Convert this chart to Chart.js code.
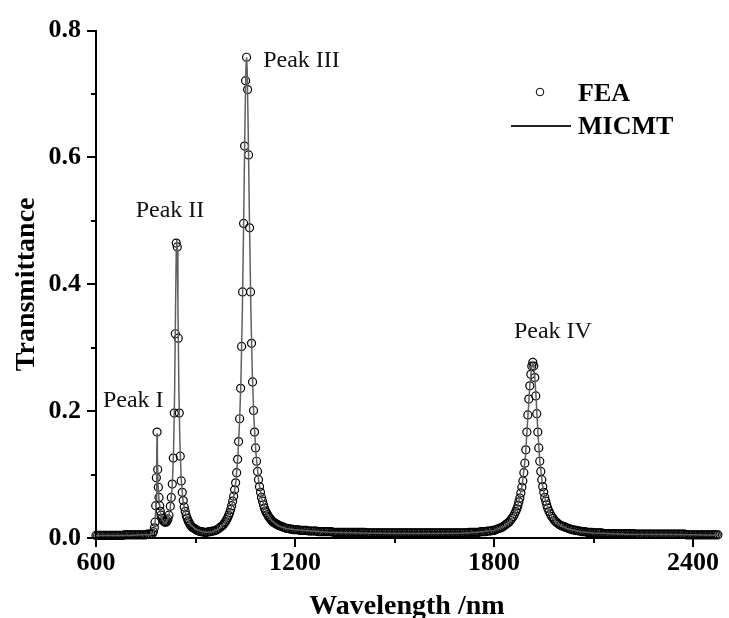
<!DOCTYPE html>
<html>
<head>
<meta charset="utf-8">
<title>Transmittance spectrum</title>
<script src="https://cdn.jsdelivr.net/npm/chart.js@4.4.1/dist/chart.umd.min.js"></script>
<style>
  html, body { margin: 0; padding: 0; background: #fff; }
  #wrap { width: 729px; height: 618px; }
</style>
</head>
<body>
<div id="wrap"><canvas id="spectrum" width="729" height="618"></canvas></div>
<script>
'use strict';

// ── AXES ──
const xMajor = [600, 1200, 1800, 2400];
const xMinor = [900, 1500, 2100];
const yMajor = [0, 0.2, 0.4, 0.6, 0.8];
const yMinor = [0.1, 0.3, 0.5, 0.7];

// ── FEA (circles) ──
const feaNm = [
  600, 605, 610, 615, 620, 625, 630, 635, 640, 645,
  650, 655, 660, 665, 670, 675, 680, 685, 690, 695,
  700, 705, 710, 715, 720, 725, 730, 735, 740, 745,
  750, 755, 760, 765, 770, 773, 776, 778, 780, 782,
  784, 786, 788, 790, 792, 794, 796, 799, 802, 805,
  808, 811, 814, 817, 820, 824, 827, 830, 833, 836,
  839, 842, 845, 848, 851, 854, 857, 860, 863, 866,
  869, 872, 875, 878, 881, 884, 887, 890, 893, 896,
  899, 902, 905, 910, 915, 920, 925, 930, 935, 940,
  945, 950, 955, 960, 965, 970, 975, 980, 984, 988,
  991, 994, 997, 1000, 1003, 1006, 1009, 1012, 1015, 1018,
  1021, 1024, 1027, 1030, 1033, 1036, 1039, 1042, 1045, 1048,
  1051, 1054, 1057, 1060, 1063, 1066, 1069, 1072, 1075, 1078,
  1081, 1084, 1087, 1090, 1093, 1096, 1099, 1102, 1105, 1108,
  1111, 1114, 1117, 1120, 1123, 1126, 1129, 1132, 1135, 1138,
  1141, 1144, 1147, 1150, 1155, 1160, 1165, 1170, 1175, 1180,
  1185, 1190, 1195, 1200, 1205, 1210, 1215, 1220, 1225, 1230,
  1235, 1240, 1245, 1250, 1255, 1260, 1265, 1270, 1275, 1280,
  1285, 1290, 1295, 1300, 1305, 1310, 1315, 1320, 1325, 1330,
  1335, 1340, 1345, 1350, 1355, 1360, 1365, 1370, 1375, 1380,
  1385, 1390, 1395, 1400, 1405, 1410, 1415, 1420, 1425, 1430,
  1435, 1440, 1445, 1450, 1455, 1460, 1465, 1470, 1475, 1480,
  1485, 1490, 1495, 1500, 1505, 1510, 1515, 1520, 1525, 1530,
  1535, 1540, 1545, 1550, 1555, 1560, 1565, 1570, 1575, 1580,
  1585, 1590, 1595, 1600, 1605, 1610, 1615, 1620, 1625, 1630,
  1635, 1640, 1645, 1650, 1655, 1660, 1665, 1670, 1675, 1680,
  1685, 1690, 1695, 1700, 1705, 1710, 1715, 1720, 1725, 1730,
  1735, 1740, 1745, 1750, 1755, 1760, 1765, 1770, 1775, 1780,
  1785, 1790, 1795, 1800, 1805, 1810, 1815, 1820, 1825, 1830,
  1835, 1840, 1845, 1850, 1854, 1858, 1862, 1866, 1869, 1872,
  1875, 1878, 1881, 1884, 1887, 1890, 1893, 1896, 1899, 1902,
  1905, 1908, 1911, 1914, 1917, 1920, 1923, 1926, 1929, 1932,
  1935, 1938, 1941, 1944, 1947, 1950, 1953, 1956, 1959, 1962,
  1966, 1970, 1974, 1978, 1982, 1986, 1990, 1995, 2000, 2005,
  2010, 2015, 2020, 2025, 2030, 2035, 2040, 2045, 2050, 2055,
  2060, 2065, 2070, 2075, 2080, 2085, 2090, 2095, 2100, 2105,
  2110, 2115, 2120, 2125, 2130, 2135, 2140, 2145, 2150, 2155,
  2160, 2165, 2170, 2175, 2180, 2185, 2190, 2195, 2200, 2205,
  2210, 2215, 2220, 2225, 2230, 2235, 2240, 2245, 2250, 2255,
  2260, 2265, 2270, 2275, 2280, 2285, 2290, 2295, 2300, 2305,
  2310, 2315, 2320, 2325, 2330, 2335, 2340, 2345, 2350, 2355,
  2360, 2365, 2370, 2375, 2380, 2385, 2390, 2395, 2400, 2405,
  2410, 2415, 2420, 2425, 2430, 2435, 2440, 2445, 2450, 2455,
  2460, 2465, 2470, 2475
];
const feaT = [
  0.004, 0.004, 0.004, 0.004, 0.004, 0.004, 0.004, 0.004, 0.004, 0.004,
  0.004, 0.004, 0.004, 0.004, 0.004, 0.004, 0.004, 0.005, 0.005, 0.005,
  0.005, 0.005, 0.005, 0.005, 0.005, 0.005, 0.005, 0.005, 0.005, 0.005,
  0.005, 0.006, 0.006, 0.006, 0.007, 0.010, 0.016, 0.025, 0.051, 0.095,
  0.167, 0.108, 0.080, 0.064, 0.051, 0.042, 0.036, 0.031, 0.028, 0.026,
  0.025, 0.025, 0.027, 0.030, 0.036, 0.050, 0.064, 0.085, 0.126, 0.197,
  0.322, 0.465, 0.459, 0.315, 0.197, 0.129, 0.090, 0.072, 0.059, 0.049,
  0.042, 0.036, 0.031, 0.027, 0.024, 0.021, 0.019, 0.017, 0.016, 0.015,
  0.014, 0.013, 0.012, 0.011, 0.010, 0.010, 0.009, 0.009, 0.009, 0.010,
  0.010, 0.011, 0.011, 0.012, 0.013, 0.015, 0.017, 0.019, 0.021, 0.024,
  0.026, 0.029, 0.032, 0.036, 0.040, 0.045, 0.051, 0.058, 0.066, 0.076,
  0.087, 0.103, 0.124, 0.152, 0.188, 0.236, 0.302, 0.388, 0.496, 0.618,
  0.721, 0.758, 0.707, 0.604, 0.489, 0.388, 0.307, 0.246, 0.201, 0.167,
  0.142, 0.121, 0.105, 0.092, 0.081, 0.072, 0.064, 0.058, 0.052, 0.047,
  0.043, 0.040, 0.037, 0.034, 0.032, 0.030, 0.028, 0.026, 0.025, 0.024,
  0.023, 0.022, 0.021, 0.020, 0.019, 0.018, 0.017, 0.016, 0.015, 0.015,
  0.014, 0.014, 0.013, 0.013, 0.013, 0.013, 0.012, 0.012, 0.012, 0.012,
  0.012, 0.011, 0.011, 0.011, 0.011, 0.011, 0.011, 0.010, 0.010, 0.010,
  0.010, 0.010, 0.010, 0.010, 0.010, 0.010, 0.009, 0.009, 0.009, 0.009,
  0.009, 0.009, 0.009, 0.009, 0.009, 0.009, 0.009, 0.009, 0.009, 0.009,
  0.009, 0.009, 0.009, 0.009, 0.009, 0.009, 0.008, 0.008, 0.008, 0.008,
  0.008, 0.008, 0.008, 0.008, 0.008, 0.008, 0.008, 0.008, 0.008, 0.008,
  0.008, 0.008, 0.008, 0.008, 0.008, 0.008, 0.008, 0.008, 0.008, 0.008,
  0.008, 0.008, 0.008, 0.008, 0.008, 0.008, 0.008, 0.008, 0.008, 0.008,
  0.008, 0.008, 0.008, 0.008, 0.008, 0.008, 0.008, 0.008, 0.008, 0.008,
  0.008, 0.008, 0.008, 0.008, 0.008, 0.008, 0.008, 0.008, 0.008, 0.008,
  0.008, 0.008, 0.008, 0.008, 0.008, 0.008, 0.008, 0.008, 0.009, 0.009,
  0.009, 0.009, 0.009, 0.009, 0.009, 0.010, 0.010, 0.010, 0.010, 0.011,
  0.011, 0.011, 0.012, 0.012, 0.013, 0.014, 0.015, 0.016, 0.017, 0.019,
  0.021, 0.023, 0.025, 0.028, 0.031, 0.034, 0.038, 0.042, 0.046, 0.051,
  0.057, 0.063, 0.071, 0.080, 0.090, 0.103, 0.118, 0.139, 0.167, 0.194,
  0.219, 0.240, 0.258, 0.271, 0.277, 0.271, 0.253, 0.224, 0.196, 0.167,
  0.142, 0.121, 0.105, 0.092, 0.081, 0.072, 0.064, 0.058, 0.052, 0.047,
  0.042, 0.038, 0.034, 0.031, 0.028, 0.026, 0.024, 0.022, 0.020, 0.019,
  0.018, 0.017, 0.016, 0.015, 0.014, 0.013, 0.013, 0.012, 0.012, 0.011,
  0.011, 0.010, 0.010, 0.010, 0.009, 0.009, 0.009, 0.009, 0.008, 0.008,
  0.008, 0.008, 0.008, 0.008, 0.007, 0.007, 0.007, 0.007, 0.007, 0.007,
  0.007, 0.007, 0.007, 0.007, 0.007, 0.007, 0.007, 0.007, 0.007, 0.007,
  0.007, 0.007, 0.007, 0.006, 0.006, 0.006, 0.006, 0.006, 0.006, 0.006,
  0.006, 0.006, 0.006, 0.006, 0.006, 0.006, 0.006, 0.006, 0.006, 0.006,
  0.006, 0.006, 0.006, 0.006, 0.006, 0.006, 0.006, 0.006, 0.006, 0.006,
  0.006, 0.006, 0.006, 0.006, 0.005, 0.005, 0.005, 0.005, 0.005, 0.005,
  0.005, 0.005, 0.005, 0.005, 0.005, 0.005, 0.005, 0.005, 0.005, 0.005,
  0.005, 0.005, 0.005, 0.005
];

// ── MICMT (line) ──
const micmtNm = [
  600, 650, 700, 740, 760, 770, 774, 778, 781, 783,
  784, 785, 787, 790, 794, 800, 806, 812, 818, 824,
  830, 834, 837, 840, 842, 843.5, 845, 847, 850, 853,
  857, 862, 868, 875, 885, 900, 920, 935, 950, 970,
  990, 1005, 1015, 1022, 1028, 1033, 1037, 1041, 1045, 1049,
  1052, 1054, 1056, 1059, 1063, 1067, 1071, 1076, 1082, 1090,
  1100, 1115, 1130, 1150, 1175, 1200, 1300, 1400, 1500, 1600,
  1700, 1750, 1800, 1830, 1850, 1870, 1885, 1895, 1902, 1908,
  1913, 1917, 1921, 1926, 1932, 1938, 1946, 1956, 1970, 1990,
  2020, 2060, 2100, 2200, 2300, 2400, 2475
];
const micmtT = [
  0.004, 0.004, 0.004, 0.005, 0.005, 0.006, 0.010, 0.022, 0.060, 0.130,
  0.165, 0.130, 0.085, 0.060, 0.040, 0.028, 0.024, 0.025, 0.031, 0.048,
  0.083, 0.140, 0.230, 0.370, 0.455, 0.470, 0.455, 0.370, 0.230, 0.150,
  0.092, 0.060, 0.043, 0.031, 0.021, 0.014, 0.010, 0.009, 0.010, 0.014,
  0.024, 0.042, 0.064, 0.090, 0.130, 0.185, 0.250, 0.350, 0.490, 0.650,
  0.740, 0.758, 0.735, 0.640, 0.490, 0.360, 0.265, 0.190, 0.135, 0.092,
  0.062, 0.039, 0.027, 0.019, 0.015, 0.013, 0.009, 0.008, 0.007, 0.007,
  0.0075, 0.009, 0.012, 0.018, 0.027, 0.047, 0.083, 0.130, 0.190, 0.240,
  0.268, 0.276, 0.268, 0.230, 0.170, 0.122, 0.084, 0.057, 0.037, 0.023,
  0.015, 0.010, 0.008, 0.006, 0.0055, 0.005, 0.0045
];

// ── TEXT ──
const peakLabels = ['Peak I', 'Peak II', 'Peak III', 'Peak IV'];
const peakLabelNm = [621, 823, 1104, 1860];
const peakLabelT = [0.217, 0.516, 0.753, 0.326];
const peakLabelAlign = ['left', 'center', 'left', 'left'];

const SERIF = '"Liberation Serif", "Times New Roman", serif';

// ── PLUGIN: ticks (major / minor, outward) ──
const axisTicks = {
  id: 'axisTicks',
  afterDraw(chart) {
    const { ctx, scales: { x, y }, chartArea: a } = chart;
    ctx.save();
    ctx.strokeStyle = '#000';
    ctx.lineWidth = 2;
    ctx.beginPath();
    yMajor.forEach(v => { const p = Math.round(y.getPixelForValue(v)); ctx.moveTo(a.left - 9, p); ctx.lineTo(a.left, p); });
    yMinor.forEach(v => { const p = Math.round(y.getPixelForValue(v)); ctx.moveTo(a.left - 5, p); ctx.lineTo(a.left, p); });
    xMajor.forEach(v => { const p = Math.round(x.getPixelForValue(v)); ctx.moveTo(p, a.bottom); ctx.lineTo(p, a.bottom + 9); });
    xMinor.forEach(v => { const p = Math.round(x.getPixelForValue(v)); ctx.moveTo(p, a.bottom); ctx.lineTo(p, a.bottom + 5); });
    ctx.stroke();
    ctx.restore();
  }
};

// ── PLUGIN: peak labels + legend ──
const annotations = {
  id: 'annotations',
  afterDraw(chart) {
    const { ctx, scales: { x, y } } = chart;
    ctx.save();
    ctx.fillStyle = '#111';
    ctx.textBaseline = 'middle';
    ctx.font = '24px ' + SERIF;
    peakLabels.forEach((txt, i) => {
      ctx.textAlign = peakLabelAlign[i];
      ctx.fillText(txt, x.getPixelForValue(peakLabelNm[i]), y.getPixelForValue(peakLabelT[i]));
    });

    // legend
    ctx.textAlign = 'left';
    ctx.font = 'bold 26px ' + SERIF;
    ctx.fillStyle = '#000';
    ctx.strokeStyle = '#000';
    ctx.lineWidth = 1;
    ctx.beginPath();
    ctx.arc(540, 92, 3.8, 0, Math.PI * 2);
    ctx.stroke();
    ctx.fillText('FEA', 578, 94);
    ctx.lineWidth = 2;
    ctx.strokeStyle = '#222';
    ctx.beginPath();
    ctx.moveTo(511, 126);
    ctx.lineTo(571, 126);
    ctx.stroke();
    ctx.fillText('MICMT', 578, 127);
    ctx.restore();
  }
};

// ── CHART ──
const tickFont = { family: SERIF, weight: 'bold', size: 26 };
const titleFont = { family: SERIF, weight: 'bold', size: 28 };

new Chart(document.getElementById('spectrum').getContext('2d'), {
  type: 'scatter',
  data: {
    datasets: [
      {
        label: 'MICMT',
        data: micmtNm.map((v, i) => ({ x: v, y: micmtT[i] })),
        showLine: true,
        borderColor: '#5f5f5f',
        borderWidth: 1.5,
        pointRadius: 0,
        tension: 0,
        order: 0,
      },
      {
        label: 'FEA',
        data: feaNm.map((v, i) => ({ x: v, y: feaT[i] })),
        showLine: false,
        pointRadius: 4,
        pointBorderWidth: 1.2,
        pointBorderColor: '#000',
        pointBackgroundColor: 'rgba(0,0,0,0)',
        clip: false,
        order: 1,
      }
    ]
  },
  options: {
    responsive: false,
    animation: false,
    devicePixelRatio: 1,
    layout: { autoPadding: false, padding: { top: 22, right: 0, bottom: 0, left: 0 } },
    plugins: { legend: { display: false }, tooltip: { enabled: false } },
    scales: {
      x: {
        type: 'linear',
        min: 600,
        max: 2475,
        afterBuildTicks: s => { s.ticks = xMajor.map(v => ({ value: v })); },
        afterFit: s => { s.height = 80; },
        grid: { drawOnChartArea: false, drawTicks: false },
        border: { color: '#000', width: 2 },
        ticks: { font: tickFont, color: '#000', padding: 10, maxRotation: 0, callback: v => String(v) },
        title: { display: true, text: 'Wavelength /nm', font: titleFont, color: '#000', padding: { top: 0, bottom: -6 } },
      },
      y: {
        min: 0,
        max: 0.8,
        afterBuildTicks: s => { s.ticks = yMajor.map(v => ({ value: v })); },
        afterFit: s => { s.width = 96; },
        grid: { drawOnChartArea: false, drawTicks: false },
        border: { color: '#000', width: 2 },
        ticks: { font: tickFont, color: '#000', padding: 15, callback: v => v.toFixed(1) },
        title: { display: true, text: 'Transmittance', font: titleFont, color: '#000', padding: { top: 10, bottom: 0 } },
      }
    }
  },
  plugins: [axisTicks, annotations]
});
</script>
</body>
</html>
